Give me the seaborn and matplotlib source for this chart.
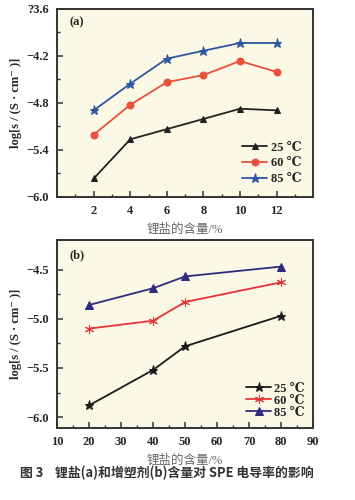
import matplotlib
matplotlib.use('Agg')
import matplotlib.pyplot as plt
import seaborn as sns
import pandas as pd

# panel (a): lithium salt content
salt_x = [2, 4, 6, 8, 10, 12]
salt_25 = [-5.77, -5.27, -5.14, -5.01, -4.88, -4.90]
salt_60 = [-5.21, -4.83, -4.54, -4.45, -4.27, -4.41]
salt_85 = [-4.90, -4.56, -4.24, -4.14, -4.04, -4.04]

# panel (b): plasticizer content
plast_x = [20, 40, 50, 80]
plast_25 = [-5.88, -5.52, -5.28, -4.97]
plast_60 = [-5.10, -5.02, -4.83, -4.63]
plast_85 = [-4.86, -4.69, -4.57, -4.47]

temps = ['25 ℃', '60 ℃', '85 ℃']
a_ticks = [-6.0, -5.4, -4.8, -4.2, -3.6]
a_ticklabels = ['−6.0', '−5.4', '−4.8', '−4.2', '?3.6']
b_ticks = [-6.0, -5.5, -5.0, -4.5]
b_ticklabels = ['−6.0', '−5.5', '−5.0', '−4.5']

sns.set_theme(style='ticks')
plt.rcParams['font.family'] = ['Liberation Serif', 'DejaVu Serif', 'Noto Sans CJK SC']
plt.rcParams['axes.facecolor'] = '#fbf9e6'
plt.rcParams['axes.edgecolor'] = '#333333'
plt.rcParams['axes.linewidth'] = 1.4
plt.rcParams['xtick.direction'] = 'in'
plt.rcParams['ytick.direction'] = 'in'

fig = plt.figure(figsize=(3.55, 5.0), dpi=100)
ax1 = fig.add_axes([0.161, 0.607, 0.721, 0.376])
ax2 = fig.add_axes([0.161, 0.145, 0.721, 0.375])

ylab = 'log[s / (S · cm⁻ )]'
xlab = '锂盐的含量/%'

# ---- (a)
style_a = [('#222222', '^', 5), ('#e8503a', 'o', 5), ('#2f56a0', '*', 6.5)]
for ys, lab, (c, m, ms) in zip([salt_25, salt_60, salt_85], temps, style_a):
    sns.lineplot(x=salt_x, y=ys, ax=ax1, color=c, marker=m, markersize=ms,
                 markeredgecolor=c, linewidth=1.3, label=lab)
ax1.set_xlim(0, 14)
ax1.set_ylim(-6.0, -3.6)
ax1.set_xticks(salt_x)
ax1.set_xticks([1, 3, 5, 7, 9, 11, 13], minor=True)
ax1.set_yticks(a_ticks)
ax1.set_yticks([-5.7, -5.1, -4.5, -3.9], minor=True)
ax1.set_yticklabels(a_ticklabels)
ax1.text(0.05, 0.91, '(a)', transform=ax1.transAxes, fontsize=9, fontweight='bold')

# ---- (b)
style_b = [('#1a1a1a', '*', 6.5), ('#e8323a', (6, 2, 0), 6.5), ('#2e2a7e', '^', 5.5)]
for ys, lab, (c, m, ms) in zip([plast_25, plast_60, plast_85], temps, style_b):
    sns.lineplot(x=plast_x, y=ys, ax=ax2, color=c, marker=m, markersize=ms,
                 markeredgecolor=c, linewidth=1.3, label=lab)
ax2.set_xlim(10, 90)
ax2.set_ylim(-6.105, -4.2)
ax2.set_xticks(range(10, 91, 10))
ax2.set_xticks(range(15, 90, 10), minor=True)
ax2.set_yticks(b_ticks)
ax2.set_yticks([-5.75, -5.25, -4.75], minor=True)
ax2.set_yticklabels(b_ticklabels)
ax2.text(0.05, 0.9, '(b)', transform=ax2.transAxes, fontsize=9, fontweight='bold')

for ax in (ax1, ax2):
    ax.tick_params(which='major', length=4, width=1.1, color='#333333',
                   labelsize=9, pad=6)
    ax.tick_params(which='minor', length=2.5, width=1.0, color='#333333')
    for t in ax.get_xticklabels() + ax.get_yticklabels():
        t.set_fontweight('bold')
    ax.set_ylabel(ylab, fontsize=9, fontweight='bold', labelpad=3)
    ax.set_xlabel(xlab, fontsize=9, color='#666666', labelpad=5)

ax1.legend(loc='lower right', frameon=False,
           prop=dict(weight='bold', size=9), handlelength=2.0,
           labelspacing=0.3, handletextpad=0.3, borderaxespad=0.5)
ax2.legend(loc='lower right', frameon=False,
           prop=dict(weight='bold', size=9), handlelength=2.0,
           labelspacing=0.0, handletextpad=0.2, borderaxespad=0.3)

fig.text(0.056, 0.046, '图 3    锂盐(a)和增塑剂(b)含量对 SPE 电导率的影响',
         fontsize=9.3, fontweight='bold', color='#333333',
         family=['Noto Sans CJK SC', 'DejaVu Sans'])

fig.savefig('out.png', dpi=100)
